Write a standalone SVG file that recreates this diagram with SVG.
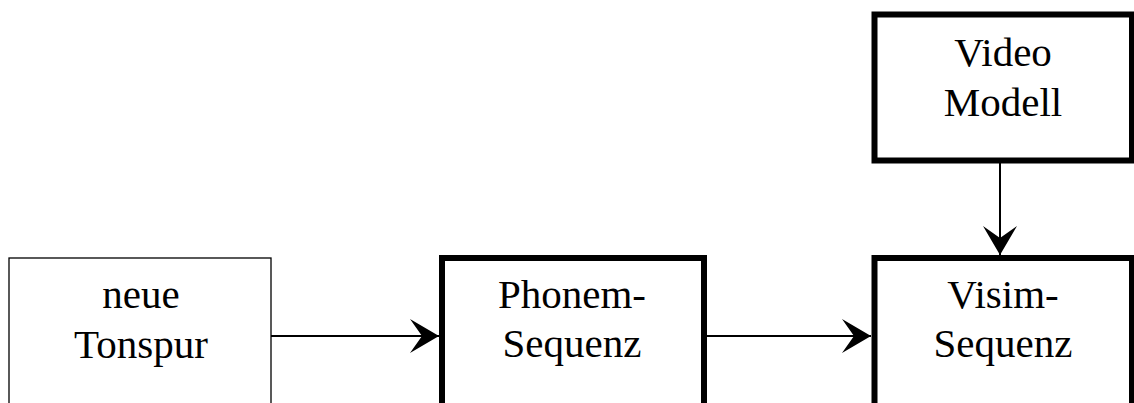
<svg xmlns="http://www.w3.org/2000/svg" width="1134" height="403" viewBox="0 0 1134 403">
  <style>
    .box { fill: #ffffff; stroke: #000000; stroke-width: 6; }
    .thin { fill: #ffffff; stroke: #000000; stroke-width: 1.3; }
    .label { font-family: "Liberation Serif", "Times New Roman", serif; font-size: 41px; fill: #000000; text-anchor: middle; }
    .edge { stroke: #000000; stroke-width: 2; fill: none; }
  </style>
  <defs>
    <marker id="arrow" markerUnits="userSpaceOnUse" markerWidth="34" markerHeight="36" refX="30" refY="17" orient="auto">
      <path d="M30,17 L1,0 L13,17 L1,34 Z" fill="#000000"/>
    </marker>
  </defs>
  <rect width="1134" height="403" fill="#ffffff"/>

  <g id="node-tonspur">
    <rect class="thin" x="9" y="258" width="262" height="160"/>
    <text class="label" x="141" y="308">neue</text>
    <text class="label" x="141" y="358">Tonspur</text>
  </g>

  <g id="node-phonem">
    <rect class="box" x="442" y="258" width="262" height="160"/>
    <text class="label" x="572" y="308">Phonem-</text>
    <text class="label" x="572" y="357">Sequenz</text>
  </g>

  <g id="node-visim">
    <rect class="box" x="874.5" y="258" width="257.5" height="160"/>
    <text class="label" x="1003" y="308">Visim-</text>
    <text class="label" x="1003" y="357">Sequenz</text>
  </g>

  <g id="node-video">
    <rect class="box" x="874.5" y="14.5" width="257.5" height="146"/>
    <text class="label" x="1003" y="66">Video</text>
    <text class="label" x="1003" y="116">Modell</text>
  </g>

  <g id="connectors">
    <line class="edge" x1="271" y1="336" x2="439" y2="336" marker-end="url(#arrow)"/>
    <line class="edge" x1="707" y1="336" x2="871" y2="336" marker-end="url(#arrow)"/>
    <line class="edge" x1="1000" y1="163" x2="1000" y2="255" marker-end="url(#arrow)"/>
  </g>
</svg>
